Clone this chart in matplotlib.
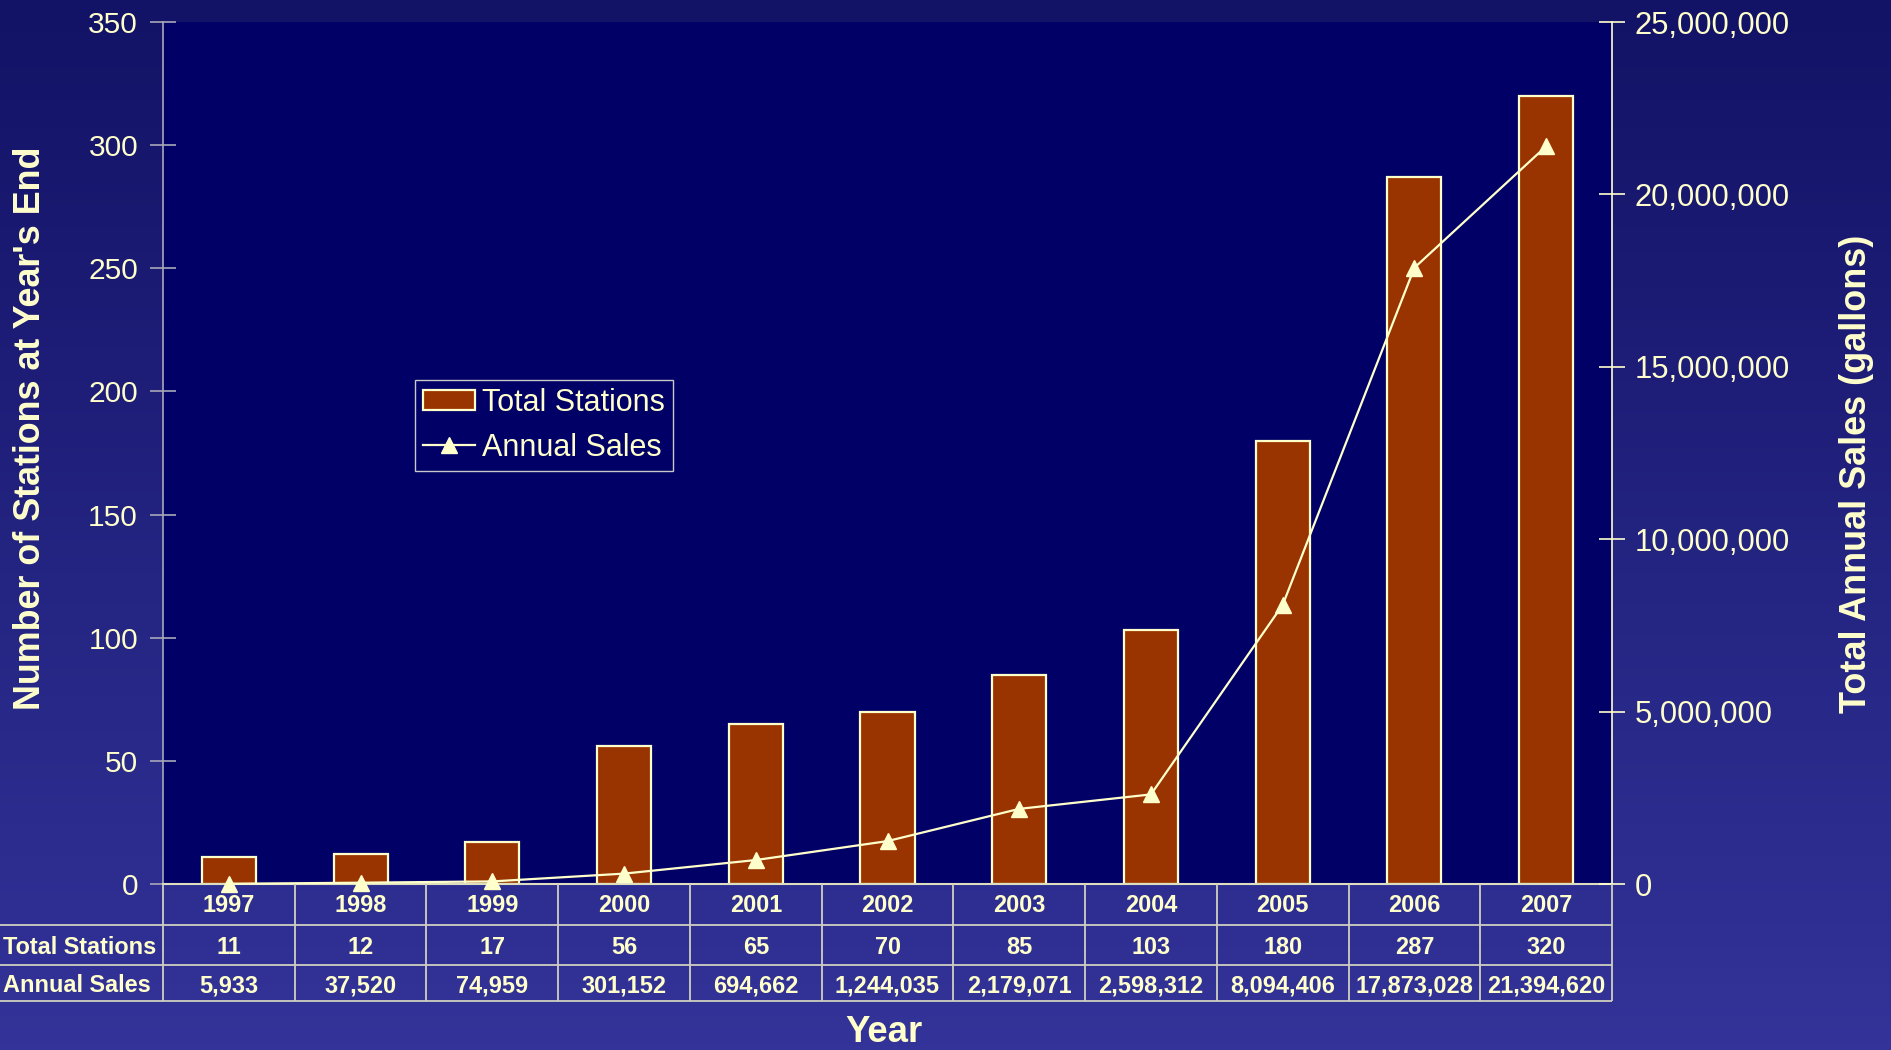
import numpy as np
import matplotlib
matplotlib.use('Agg')
import matplotlib.pyplot as plt
from matplotlib.ticker import FuncFormatter

# ---------------- data ----------------
years = ['1997', '1998', '1999', '2000', '2001', '2002', '2003', '2004', '2005', '2006', '2007']
total_stations = [11, 12, 17, 56, 65, 70, 85, 103, 180, 287, 320]
annual_sales = [5933, 37520, 74959, 301152, 694662, 1244035, 2179071, 2598312,
                8094406, 17873028, 21394620]
left_ticks = [0, 50, 100, 150, 200, 250, 300, 350]
right_ticks = [0, 5000000, 10000000, 15000000, 20000000, 25000000]
row_labels = ['Total Stations', 'Annual Sales']
series_names = ['Total Stations', 'Annual Sales']

# ---------------- style ----------------
plt.rcParams['font.family'] = ['Liberation Sans', 'DejaVu Sans']
TXT = '#FFFFCC'
BAR = '#993300'
PLOTBG = '#000066'
GRID = '#D0D0C0'

W, H = 1891, 1050
fig = plt.figure(figsize=(W / 100, H / 100), dpi=100)

# gradient background
bg = fig.add_axes([0, 0, 1, 1], zorder=-10)
top = np.array([0x12, 0x12, 0x66]) / 255.0
bot = np.array([0x33, 0x33, 0x99]) / 255.0
t = np.linspace(0, 1, 256)[:, None]
grad = top * (1 - t) + bot * t
bg.imshow(grad[:, None, :], aspect='auto', extent=[0, 1, 0, 1])
bg.set_xlim(0, 1)
bg.set_ylim(0, 1)
bg.axis('off')

# main axes (pixel layout)
L, R, T, B = 163, 1612, 22, 884
ax = fig.add_axes([L / W, 1 - B / H, (R - L) / W, (B - T) / H])
ax.set_facecolor(PLOTBG)
x = np.arange(len(years))
bars = ax.bar(x, total_stations, width=0.41, color=BAR, edgecolor=TXT,
              linewidth=1.6, zorder=2)
ax.set_xlim(-0.5, len(years) - 0.5)
ax.set_ylim(left_ticks[0], left_ticks[-1])
ax.set_yticks(left_ticks)
ax.set_xticks([])
ax.tick_params(axis='y', direction='inout', length=19, width=1.2,
               color='#A8A8B8', labelcolor=TXT, labelsize=21.5, pad=8.5)
ax.spines['top'].set_visible(False)
ax.spines['right'].set_visible(False)
ax.spines['left'].set_color('#A8A8B8')
ax.spines['left'].set_linewidth(1.2)
ax.spines['bottom'].set_color('#DDDDC0')
ax.spines['bottom'].set_linewidth(1.5)

ax2 = ax.twinx()
ax2.set_ylim(right_ticks[0], right_ticks[-1])
ax2.set_yticks(right_ticks)
ax2.yaxis.set_major_formatter(FuncFormatter(lambda v, p: f'{int(v):,}'))
line, = ax2.plot(x, annual_sales, color=TXT, lw=1.6, marker='^', ms=11,
                 zorder=3, clip_on=False)
ax2.tick_params(axis='y', direction='inout', length=19, width=1.2,
                color=TXT, labelcolor=TXT, labelsize=22.3, pad=7)
for s in ['top', 'left', 'bottom']:
    ax2.spines[s].set_visible(False)
ax2.spines['right'].set_color(TXT)
ax2.spines['right'].set_linewidth(1.2)

# axis labels
fig.text(31 / W, 1 - 428 / H, "Number of Stations at Year's End", rotation=90,
         ha='center', va='center', fontsize=25.8, fontweight='bold', color=TXT)
fig.text(1857 / W, 1 - 474 / H, 'Total Annual Sales (gallons)', rotation=90,
         ha='center', va='center', fontsize=25.9, fontweight='bold', color=TXT)
fig.text(884 / W, 1 - 1042 / H, 'Year', ha='center', va='baseline',
         fontsize=26.3, fontweight='bold', color=TXT)

# legend
leg = ax2.legend([bars, line], series_names, loc='upper left',
                 bbox_to_anchor=(415 / W, 1 - 380 / H), bbox_transform=fig.transFigure,
                 borderaxespad=0, frameon=True, fancybox=False, facecolor=PLOTBG,
                 edgecolor='#C8C8C8', framealpha=1, fontsize=22, handlelength=1.7,
                 handleheight=0.65, handletextpad=0.25, labelspacing=0.5,
                 borderpad=0.25, labelcolor=TXT)
leg.get_frame().set_linewidth(1.0)

# data table below the axes
TB = 1001
tab = fig.add_axes([0, 1 - TB / H, R / W, (TB - B) / H])
ppu = (R - L) / len(years)
xleft = -0.5 - L / ppu
tab.set_xlim(xleft, len(years) - 0.5)
tab.set_ylim(TB - B, 0)
tab.axis('off')
tab.patch.set_alpha(0)
row_edges = [41, 81, 117]
tab.hlines(row_edges, xleft, len(years) - 0.5, color=GRID, lw=1.3, clip_on=False)
tab.vlines(np.arange(len(years) + 1) - 0.5, 0, row_edges[-1], color=GRID, lw=1.3,
           clip_on=False)
tab_fs = 16.9
for i in range(len(years)):
    tab.text(i, 22, years[i], ha='center', va='center', fontsize=tab_fs,
             fontweight='bold', color=TXT)
    tab.text(i, 63, f'{total_stations[i]:,}', ha='center', va='center',
             fontsize=tab_fs, fontweight='bold', color=TXT)
    tab.text(i, 102, f'{annual_sales[i]:,}', ha='center', va='center',
             fontsize=tab_fs, fontweight='bold', color=TXT)
tab.text(xleft + 3 / ppu, 63, row_labels[0], ha='left', va='center',
         fontsize=tab_fs, fontweight='bold', color=TXT)
tab.text(xleft + 3 / ppu, 102, row_labels[1], ha='left', va='center',
         fontsize=tab_fs, fontweight='bold', color=TXT)

fig.savefig('out.png', dpi=100, facecolor=fig.get_facecolor())
